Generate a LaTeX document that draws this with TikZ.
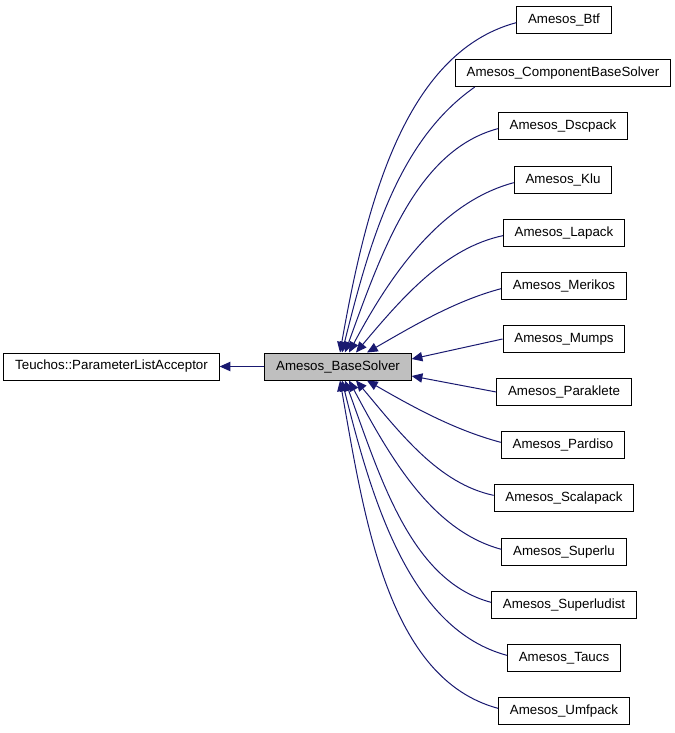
\documentclass[tikz,border=0pt]{standalone}
\usepackage{fontspec}
\setmainfont{Liberation Sans}
\usetikzlibrary{arrows.meta, calc}
\definecolor{edgeblue}{RGB}{25,25,112}

\begin{document}
\begin{tikzpicture}[x=0.75pt, y=-0.75pt,
box/.style={draw=black, fill=white, line width=0.75pt, inner xsep=8.5pt,
  minimum height=20.25pt, font=\fontsize{10}{12}\selectfont},
basebox/.style={box, fill=gray!50},
inherit/.style={edgeblue, line width=0.75pt,
  -{Triangle[length=8pt,width=7pt]}, draw,
  out looseness=0.8, in looseness=1}
]
\useasboundingbox (0,0) rectangle (675,733);

\node[box] (acceptor) at (111.5,366.5) {Teuchos::ParameterListAcceptor};
\node[basebox] (solver) at (338,366.5) {Amesos\_BaseSolver};

\node[box] (btf)         at (564,20)  {Amesos\_Btf};
\node[box] (component)   at (563,73)  {Amesos\_ComponentBaseSolver};
\node[box] (dscpack)     at (563,126) {Amesos\_Dscpack};
\node[box] (klu)         at (563,180) {Amesos\_Klu};
\node[box] (lapack)      at (564,233) {Amesos\_Lapack};
\node[box] (merikos)     at (564,286) {Amesos\_Merikos};
\node[box] (mumps)       at (564,339) {Amesos\_Mumps};
\node[box] (paraklete)   at (564,392) {Amesos\_Paraklete};
\node[box] (pardiso)     at (563,445) {Amesos\_Pardiso};
\node[box] (scalapack)   at (564,498) {Amesos\_Scalapack};
\node[box] (superlu)     at (564,552) {Amesos\_Superlu};
\node[box] (superludist) at (564,605) {Amesos\_Superludist};
\node[box] (taucs)       at (564,658) {Amesos\_Taucs};
\node[box] (umfpack)     at (564,711) {Amesos\_Umfpack};

% base class
\draw[inherit] (solver.west) -- (acceptor.east);

% derived classes, upper half
\draw[inherit] ([yshift=-2pt]btf.west) to[out=195, in=80] ($(solver.north)+(2,0)$);
\draw[inherit] ([xshift=15pt]component.south west) to[out=215, in=76] ($(solver.north)+(4,0)$);
\draw[inherit] ([yshift=-2pt]dscpack.west) to[out=195, in=70] ($(solver.north)+(7,0)$);
\draw[inherit] ([yshift=-2pt]klu.west) to[out=195, in=62] ($(solver.north)+(11,0)$);
\draw[inherit] ([yshift=-2pt]lapack.west) to[out=192, in=50] ($(solver.north)+(18,0)$);
\draw[inherit] ([yshift=-2pt]merikos.west) to[out=195, in=30] ($(solver.north)+(29,0)$);
\draw[inherit] (mumps.west) -- ($(solver.east)+(0,-7.5)$);

% derived classes, lower half
\draw[inherit] (paraklete.west) -- ($(solver.east)+(0,9.5)$);
\draw[inherit] ([yshift=2pt]pardiso.west) to[out=165, in=-30] ($(solver.south)+(29,0)$);
\draw[inherit] ([yshift=2pt]scalapack.west) to[out=168, in=-50] ($(solver.south)+(18,0)$);
\draw[inherit] ([yshift=2pt]superlu.west) to[out=165, in=-62] ($(solver.south)+(11,0)$);
\draw[inherit] ([yshift=2pt]superludist.west) to[out=165, in=-70] ($(solver.south)+(7,0)$);
\draw[inherit] ([yshift=2pt]taucs.west) to[out=165, in=-76] ($(solver.south)+(4,0)$);
\draw[inherit] ([yshift=2pt]umfpack.west) to[out=165, in=-80] ($(solver.south)+(2,0)$);
\end{tikzpicture}
\end{document}
